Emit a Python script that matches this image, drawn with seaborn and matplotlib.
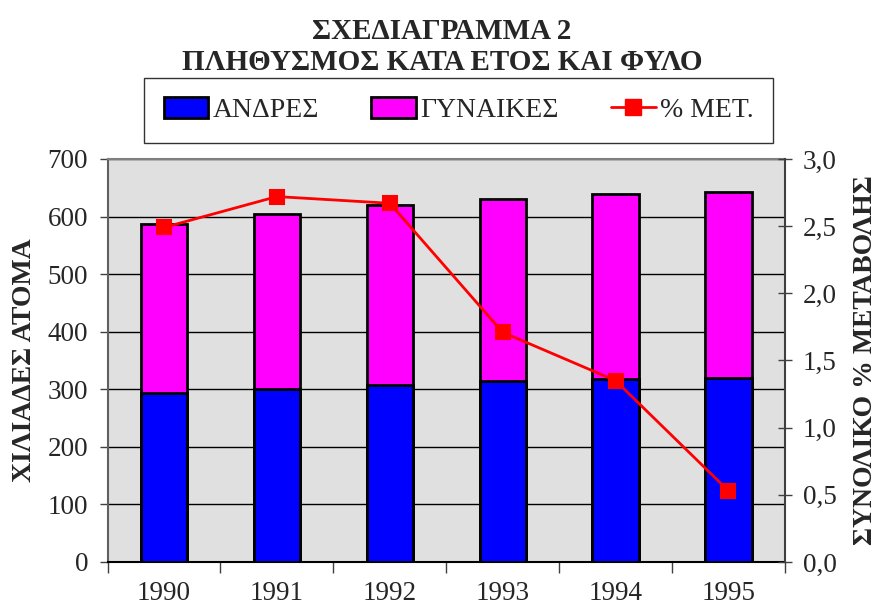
import matplotlib
matplotlib.use("Agg")
import matplotlib.pyplot as plt
import seaborn as sns
import pandas as pd
from matplotlib.patches import Patch
from matplotlib.lines import Line2D
from matplotlib.ticker import MultipleLocator, FixedLocator, FuncFormatter

# --- data ---
years = ["1990", "1991", "1992", "1993", "1994", "1995"]
men = [293, 300, 308, 314, 318, 320]          # ΑΝΔΡΕΣ (χιλ.)
total = [587, 604, 620, 630, 639, 642]        # ΑΝΔΡΕΣ + ΓΥΝΑΙΚΕΣ
pct_change = [2.49, 2.72, 2.67, 1.71, 1.35, 0.53]

df = pd.DataFrame({"year": years, "men": men, "total": total, "pct": pct_change})

sns.set_style("white")
plt.rcParams["font.family"] = ["Liberation Serif", "DejaVu Serif"]

fig = plt.figure(figsize=(8.77, 6.09), dpi=100)
ax = fig.add_axes([0.1226, 0.0772, 0.7724, 0.6618])
ax.set_facecolor("#e0e0e0")

# γυναίκες = συνολικό ύψος, από πάνω οι άνδρες
sns.barplot(data=df, x="year", y="total", color="#ff00ff", saturation=1,
            width=0.41, edgecolor="black", linewidth=2, ax=ax, zorder=3)
sns.barplot(data=df, x="year", y="men", color="#0000ff", saturation=1,
            width=0.41, edgecolor="black", linewidth=2, ax=ax, zorder=3)

ax.set_ylim(0, 700)
ax.set_xlim(-0.5, 5.5)
ax.yaxis.set_major_locator(MultipleLocator(100))
ax.grid(axis="y", color="black", linewidth=1, zorder=1)
ax.set_axisbelow(True)
ax.set_xlabel("")
ax.set_ylabel("ΧΙΛΙΑΔΕΣ ΑΤΟΜΑ", fontsize=20, fontweight="bold")
ax.yaxis.set_label_coords(-0.104, 0.5)
ax.tick_params(axis="y", labelsize=19.5, direction="out", length=6, pad=8,
               color="#404040", width=1, left=True)
ax.tick_params(axis="x", which="major", labelsize=19.5, length=0, pad=14)
ax.xaxis.set_minor_locator(FixedLocator([i - 0.5 for i in range(len(years) + 1)]))
ax.tick_params(axis="x", which="minor", direction="out", length=8,
               color="#404040", width=1, bottom=True)

ax.spines["top"].set_color("#808080")
ax.spines["top"].set_linewidth(1.5)
ax.spines["left"].set_color("#606060")
ax.spines["left"].set_linewidth(1.5)
ax.spines["bottom"].set_color("black")
ax.spines["bottom"].set_linewidth(1.5)
ax.spines["right"].set_visible(False)

# δεξιός άξονας: % μεταβολή
ax2 = ax.twinx()
sns.pointplot(data=df, x="year", y="pct", color="red", markers="s",
              markersize=10, linewidth=2, ax=ax2, zorder=5)
ax2.set_xlim(-0.5, 5.5)
ax2.set_ylim(0, 3.0)
ax2.yaxis.set_major_locator(MultipleLocator(0.5))
ax2.yaxis.set_major_formatter(FuncFormatter(
    lambda v, p: f"{v:.1f}".replace(".", ",")))
ax2.set_ylabel("ΣΥΝΟΛΙΚΟ % ΜΕΤΑΒΟΛΗΣ", fontsize=20, fontweight="bold",
               rotation=90)
ax2.yaxis.set_label_coords(1.1, 0.5)
ax2.tick_params(axis="y", labelsize=19.5, direction="inout", length=10, pad=8,
                color="#404040", width=1, right=True)
for side in ["top", "left", "bottom"]:
    ax2.spines[side].set_visible(False)
ax2.spines["right"].set_color("#404040")
ax2.spines["right"].set_linewidth(1.5)

fig.text(0.504, 0.949, "ΣΧΕΔΙΑΓΡΑΜΜΑ 2", ha="center", va="center",
         fontsize=21, fontweight="bold")
fig.text(0.504, 0.897, "ΠΛΗΘΥΣΜΟΣ ΚΑΤΑ ΕΤΟΣ ΚΑΙ ΦΥΛΟ", ha="center", va="center",
         fontsize=21, fontweight="bold")

handles = [
    Patch(facecolor="#0000ff", edgecolor="black", linewidth=2),
    Patch(facecolor="#ff00ff", edgecolor="black", linewidth=2),
    Line2D([], [], color="red", marker="s", markersize=11, linewidth=2),
]
leg = fig.legend(handles, ["ΑΝΔΡΕΣ", "ΓΥΝΑΙΚΕΣ", "% ΜΕΤ."], ncol=3,
                 loc="center", bbox_to_anchor=(0.523, 0.819), fontsize=20,
                 frameon=True, fancybox=False, edgecolor="black",
                 handlelength=1.6, handleheight=0.8, handletextpad=0.15,
                 columnspacing=1.9, borderpad=0.7)
leg.get_frame().set_linewidth(1)

fig.savefig("out.png", dpi=100)
